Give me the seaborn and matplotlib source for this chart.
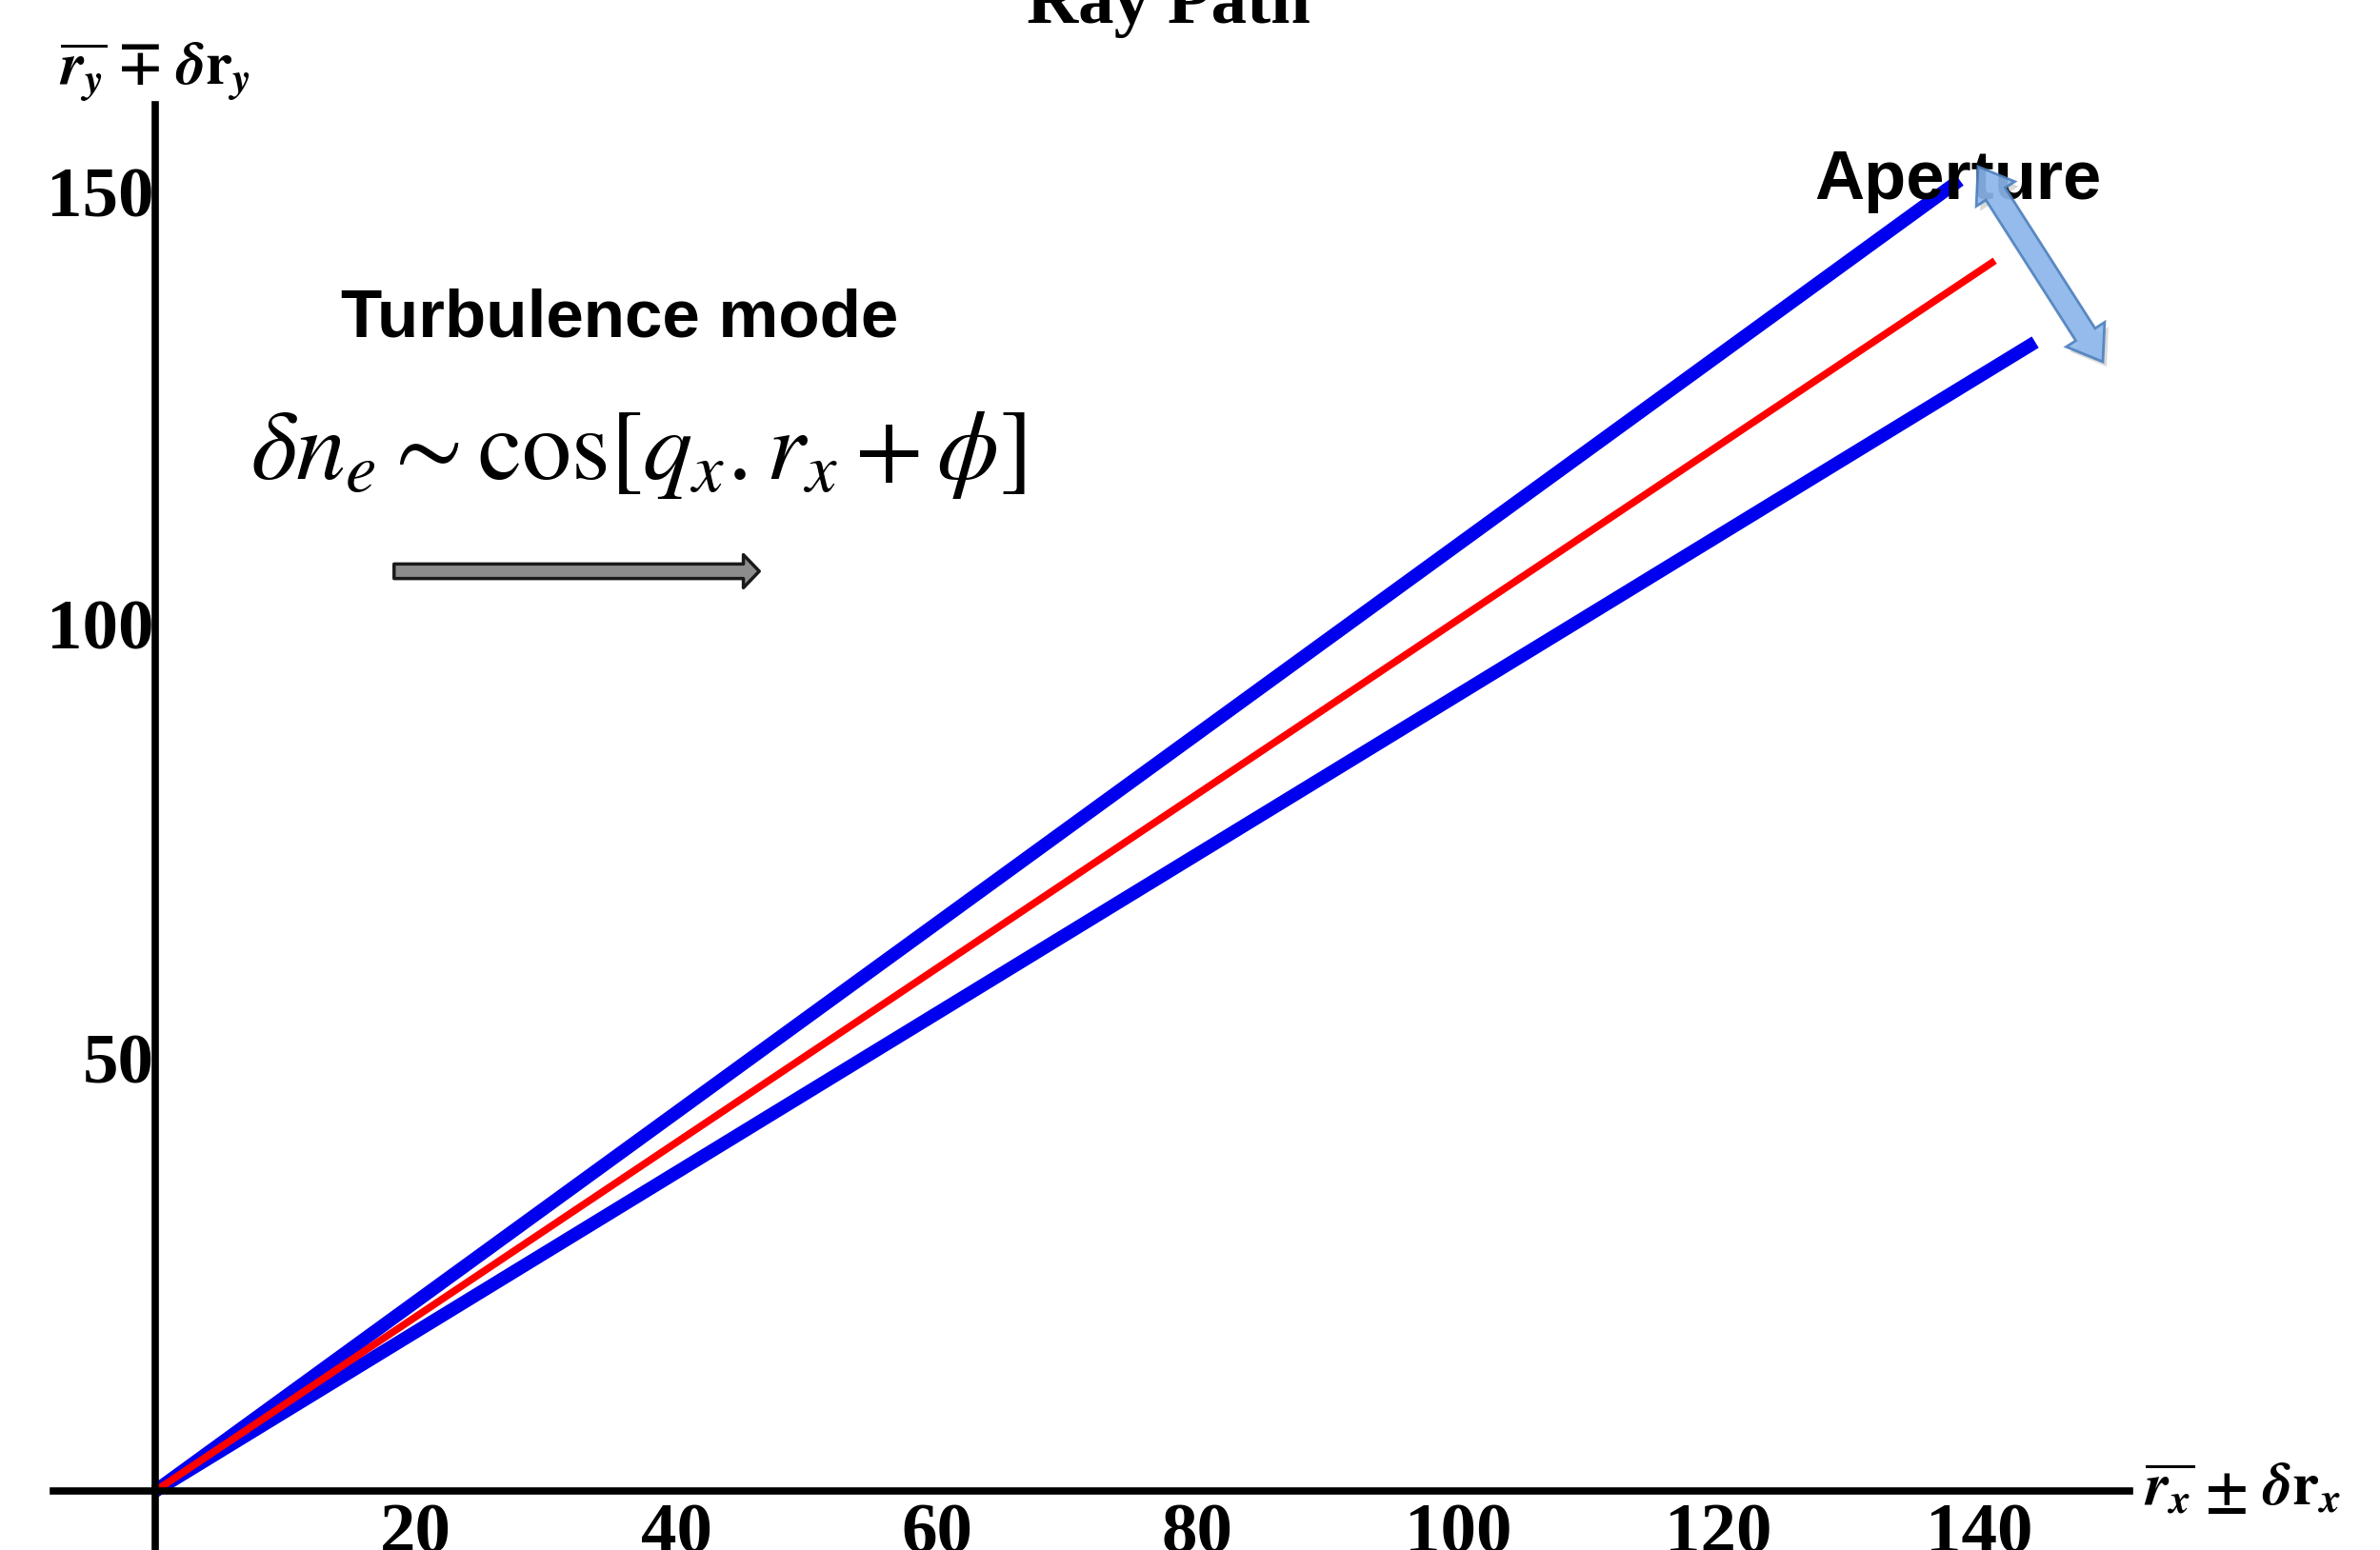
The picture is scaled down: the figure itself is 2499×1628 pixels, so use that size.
import numpy as np
import pandas as pd
import matplotlib
matplotlib.use("Agg")
from matplotlib import pyplot as plt
from matplotlib.patches import Polygon
import seaborn as sns

# raggi: estremo finale di ciascun raggio (partono tutti dall'origine)
ray_names = ["upper edge", "lower edge", "mean ray"]
ray_x_end = [138.5, 144.3, 141.2]
ray_y_end = [151.3, 132.6, 142.0]
ray_colors = ["#0000ee", "#0000ee", "#ff0000"]
ray_widths = [10, 10, 5.5]

x_ticks = [20, 40, 60, 80, 100, 120, 140]
y_ticks = [50, 100, 150]

rows = []
for name, xe, ye in zip(ray_names, ray_x_end, ray_y_end):
    rows.append({"ray": name, "x": 0.0, "y": 0.0})
    rows.append({"ray": name, "x": xe, "y": ye})
df = pd.DataFrame(rows)

sns.set_style("white")
plt.rcParams["font.family"] = ["Liberation Serif", "DejaVu Serif"]
plt.rcParams["font.weight"] = "normal"
plt.rcParams["mathtext.fontset"] = "stix"
plt.rcParams["text.color"] = "black"
plt.rcParams["xtick.color"] = "black"
plt.rcParams["ytick.color"] = "black"

W, H = 2499, 1628
fig = plt.figure(figsize=(W / 100, H / 100), dpi=100)
ax = fig.add_axes([0, 0, 1, 1])

# scala: x=0 a 163 px, 13.68 px per unita'; y=0 a 1566 px, 9.10 px per unita'
ax.set_xlim(-163 / 13.68, (W - 163) / 13.68)
ax.set_ylim(-(H - 1566) / 9.10, 1566 / 9.10)

for name, col, lw in zip(ray_names, ray_colors, ray_widths):
    sns.lineplot(data=df[df["ray"] == name], x="x", y="y", color=col,
                 linewidth=lw, sort=False, ax=ax, solid_capstyle="butt")

# assi cartesiani in stile "croce"
for s in ["top", "right"]:
    ax.spines[s].set_visible(False)
ax.spines["left"].set_position(("data", 0))
ax.spines["bottom"].set_position(("data", 0))
ax.spines["left"].set_bounds(-6.7, 160)
ax.spines["bottom"].set_bounds(-7.8, 151.5)
for s in ["left", "bottom"]:
    ax.spines[s].set_linewidth(5.5)
    ax.spines[s].set_color("black")

ax.set_xticks(x_ticks)
ax.set_yticks(y_ticks)
ax.tick_params(axis="both", direction="in", length=7, width=3, labelsize=54,
               labelcolor="black")
ax.tick_params(axis="x", pad=9)
ax.tick_params(axis="y", pad=1)
for lbl in ax.get_xticklabels() + ax.get_yticklabels():
    lbl.set_fontweight("bold")
ax.set_xlabel("")
ax.set_ylabel("")

# titolo (tagliato in alto come nell'originale)
fig.text(1227 / W, 1 - 24 / H, "Ray Path", ha="center", va="baseline",
         fontsize=54, fontweight="bold")

# etichette degli assi
fig.text(62 / W, 1 - 76 / H,
         r"$\overline{\mathbfit{r}_\mathbfit{y}}\;\mathbf{\mp}\;\mathbfit{\delta}\mathbf{r}_\mathbfit{y}$",
         ha="left", va="center", fontsize=45)
ax.text(152.6, 0,
        r"$\overline{\mathbfit{r}_\mathbfit{x}}\;\mathbf{\pm}\;\mathbfit{\delta}\mathbf{r}_\mathbfit{x}$",
        ha="left", va="center", fontsize=45)

# annotazioni
fig.text(651 / W, 1 - 335 / H, "Turbulence mode", ha="center", va="center",
         fontsize=51, fontweight="bold", family=["Liberation Sans", "DejaVu Sans"])
fig.text(263 / W, 1 - 478 / H, r"$\delta n_e \sim \mathrm{cos}[q_x.r_x + \phi]$",
         ha="left", va="center", fontsize=75)
fig.text(2056 / W, 1 - 190 / H, "Aperture", ha="center", va="center",
         fontsize=52, fontweight="bold", family=["Liberation Sans", "DejaVu Sans"],
         zorder=5)

# freccia grigia della direzione del modo
ax.annotate("", xy=(800 / W, 1 - 600 / H), xytext=(411 / W, 1 - 600 / H),
            xycoords="figure fraction", textcoords="figure fraction",
            arrowprops=dict(arrowstyle="simple,head_width=25,head_length=12,tail_width=11",
                            mutation_scale=1, fc="#8c8c8c", ec="#1a1a1a", lw=2.5))

# freccia doppia blu dell'apertura (in pixel)
p1 = np.array([2077.0, H - 175.0])
p2 = np.array([2208.0, H - 380.0])
u = (p2 - p1) / np.linalg.norm(p2 - p1)
n = np.array([-u[1], u[0]])
w, hw, hl = 12.0, 24.0, 34.0
pts = [p1, p1 + hl * u + hw * n, p1 + hl * u + w * n, p2 - hl * u + w * n,
       p2 - hl * u + hw * n, p2, p2 - hl * u - hw * n, p2 - hl * u - w * n,
       p1 + hl * u - w * n, p1 + hl * u - hw * n]
shadow = Polygon([p + np.array([4, -5]) for p in pts], closed=True, transform=None,
                 fc="#000000", ec="none", alpha=0.15, zorder=6)
arrow = Polygon(pts, closed=True, transform=None, fc="#8db8ee", ec="#4f81bd",
                lw=2, alpha=0.9, zorder=7)
fig.patches.append(shadow)
fig.patches.append(arrow)

fig.savefig("out.png", dpi=100)
